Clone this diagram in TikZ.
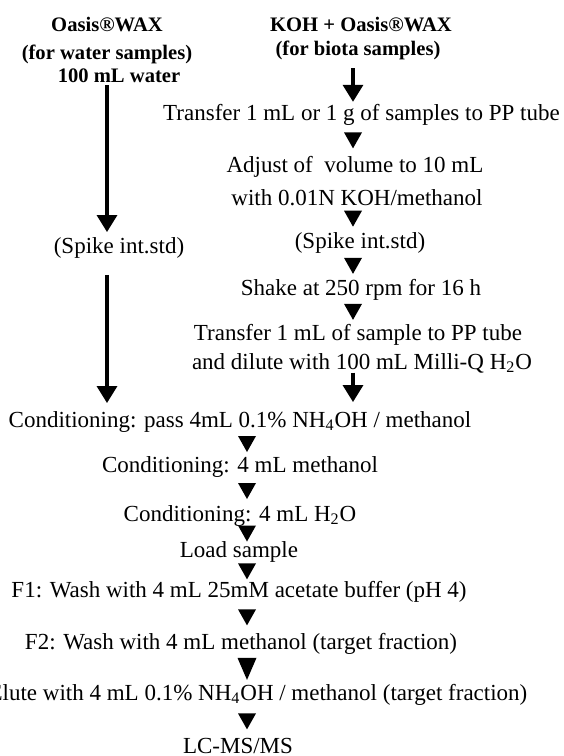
\documentclass[tikz,border=0pt]{standalone}
\usepackage{fontspec}
\setmainfont{Liberation Serif}
\usetikzlibrary{arrows.meta}

\begin{document}
\begin{tikzpicture}
[x=0.5pt,y=-0.5pt,
txt/.style={inner sep=0pt,outer sep=0pt,anchor=base,font=\fontsize{11.5}{13}\selectfont},
hd/.style={txt,font=\fontsize{10.3}{12}\selectfont\bfseries},
bigarrow/.style={line width=1.7pt,-{Triangle[width=10pt,length=8.5pt]}}]
\useasboundingbox (0,0) rectangle (563,756);
\coordinate (colL) at (107,0);
\coordinate (colR) at (353,0);
\coordinate (colB) at (247,0);
% water samples
\node[hd] (hw1) at (107,31) {Oasis®WAX};
\node[hd] (hw2) at (107,59) {(for water samples)};
\node[hd] (water) at (119,82) {100 mL water};
\node[txt] (spikeL) at (119,253) {(Spike int.std)};
% biota samples
\node[hd] (hb1) at (361,31) {KOH + Oasis®WAX};
\node[hd] (hb2) at (358,55) {(for biota samples)};
\node[txt] (trans) at (361.5,120) {Transfer 1 mL or 1 g of samples to PP tube};
\node[txt] (adjust) at (355,172) {Adjust of\ \ volume to 10 mL};
\node[txt] (koh) at (357,205) {with 0.01N KOH/methanol};
\node[txt] (spikeR) at (360,248) {(Spike int.std)};
\node[txt] (shake) at (361,295) {Shake at 250 rpm for 16 h};
\node[txt] (dil1) at (358,340) {Transfer 1 mL of sample to PP tube};
\node[txt] (dil2) at (362,369) {and dilute with 100 mL Milli-Q H\textsubscript{2}O};
% SPE steps
\node[txt] (cond1) at (240,427) {Conditioning: pass 4mL 0.1\% NH\textsubscript{4}OH / methanol};
\node[txt] (cond2) at (240,472) {Conditioning: 4 mL methanol};
\node[txt] (cond3) at (240,521) {Conditioning: 4 mL H\textsubscript{2}O};
\node[txt] (load) at (239,557) {Load sample};
\node[txt] (wash1) at (239,597) {F1: Wash with 4 mL 25mM acetate buffer (pH 4)};
\node[txt] (wash2) at (241,649) {F2: Wash with 4 mL methanol (target fraction)};
\node[txt] (elute) at (258,700) {Elute with 4 mL 0.1\% NH\textsubscript{4}OH / methanol (target fraction)};
\node[txt] (lcms) at (238,753) {LC-MS/MS};
% arrows
\draw[bigarrow,shorten <=1.5pt,shorten >=2.5pt] (water.south -| colL) -- (spikeL.north -| colL);
\draw[bigarrow,shorten <=8.5pt,shorten >=4pt] (spikeL.south -| colL) -- (cond1.north -| colL);
\draw[bigarrow,shorten <=4.5pt,shorten >=1pt] (hb2.south -| colR) -- (trans.north -| colR);
\draw[bigarrow,shorten >=4.5pt] (dil2.south -| colR) -- (cond1.north -| colR);
% triangle markers between steps
\foreach \from/\to/\col in {trans/adjust/colR,koh/spikeR/colR,spikeR/shake/colR,shake/dil1/colR,
  cond1/cond2/colB,cond2/cond3/colB,cond3/load/colB,load/wash1/colB,wash1/wash2/colB,elute/lcms/colB}
{
\path (\from.south -| \col) -- coordinate[midway] (m) (\to.north -| \col);
\fill (m) ++(-9,-8) -- ++(18,0) -- ++(-9,16) -- cycle;
}
\path (wash2.south -| colB) -- coordinate[midway] (m) (elute.north -| colB);
\fill (m) ++(-9.5,-11) -- ++(19,0) -- ++(-9.5,22) -- cycle;
\end{tikzpicture}
\end{document}
